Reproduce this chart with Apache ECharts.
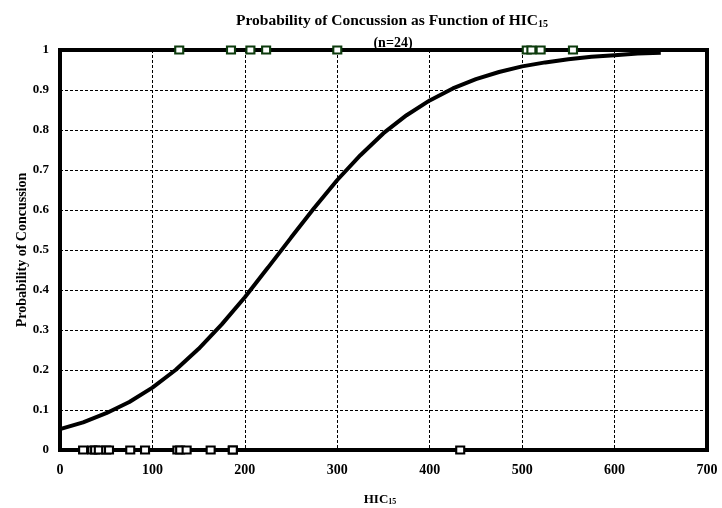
<!DOCTYPE html>
<html>
<head>
<meta charset="utf-8">
<script src="https://cdn.jsdelivr.net/npm/echarts@6/dist/echarts.min.js"></script>
<style>html,body{margin:0;padding:0;background:#fff;}#c{width:722px;height:508px;}</style>
</head>
<body>
<div id="c"></div>
<script>
// Logistic curve
const curveHIC = [0,25,50,75,100,125,150,175,200,225,250,275,300,325,350,375,400,425,450,475,500,525,550,575,600,625,650];
const curveP   = [0.052,0.069,0.092,0.120,0.156,0.200,0.253,0.314,0.382,0.456,0.531,0.605,0.675,0.737,0.792,0.837,0.874,0.904,0.927,0.945,0.959,0.969,0.977,0.983,0.987,0.991,0.993];
// Observed concussion cases (p = 1)
const concussHIC = [129,185,206,223,300,505,510,520,555];
// Observed non-concussion cases (p = 0)
const noConcussHIC = [25,35,38,42,50,53,76,92,127,130,137,163,187,187,433];
const xTicks = [0,100,200,300,400,500,600,700];

const chart = echarts.init(document.getElementById('c'));
const font = '"Liberation Serif", "DejaVu Serif", serif';
chart.setOption({
  backgroundColor: '#fff',
  animation: false,
  title: [{
    text: '{a|Probability of Concussion as Function of HIC}{s|15}',
    left: 387, top: 8, textAlign: 'center',
    textStyle: { rich: {
      a: { fontFamily: font, fontWeight: 'bold', fontSize: 15.5, color: '#000' },
      s: { fontFamily: font, fontWeight: 'bold', fontSize: 10, color: '#000', verticalAlign: 'bottom', padding: [6,0,0,0] }
    }}
  }, {
    text: '(n=24)', left: 388, top: 31, textAlign: 'center',
    textStyle: { fontFamily: font, fontWeight: 'bold', fontSize: 14, color: '#000' }
  }, {
    text: '{a|HIC}{s|15}', left: 375, top: 488, textAlign: 'center',
    textStyle: { rich: {
      a: { fontFamily: font, fontWeight: 'bold', fontSize: 13, color: '#000' },
      s: { fontFamily: font, fontWeight: 'bold', fontSize: 8, color: '#000', verticalAlign: 'bottom', padding: [5,0,0,0] }
    }}
  }],
  grid: { left: 60, right: 15, top: 50, bottom: 58, show: true, borderColor: '#000', borderWidth: 4 },
  xAxis: {
    type: 'value', min: 0, max: 700, interval: 100,
    axisLine: { show: false }, axisTick: { show: false },
    axisLabel: { fontFamily: font, fontWeight: 'bold', fontSize: 14, color: '#000', margin: 13,
      formatter: v => xTicks.includes(v) ? String(v) : '' },
    splitLine: { show: true, lineStyle: { color: '#000', type: [3,2], width: 1 } }
  },
  yAxis: {
    type: 'value', min: 0, max: 1, interval: 0.1,
    name: 'Probability of Concussion', nameLocation: 'middle', nameGap: 31, nameRotate: 90,
    nameMoveOverlap: false,
    nameTextStyle: { fontFamily: font, fontWeight: 'bold', fontSize: 14, color: '#000' },
    axisLine: { show: false }, axisTick: { show: false },
    axisLabel: { fontFamily: font, fontWeight: 'bold', fontSize: 13, color: '#000', margin: 11,
      formatter: v => { const r = Math.round(v*10)/10; return r === 0 ? '0' : (r === 1 ? '1' : r.toFixed(1)); } },
    splitLine: { show: true, lineStyle: { color: '#000', type: [3,2], width: 1 } }
  },
  series: [{
    type: 'line', data: curveHIC.map((x,i) => [x, curveP[i]]),
    showSymbol: false, symbol: 'none', lineStyle: { color: '#000', width: 4 }, z: 3
  }, {
    type: 'scatter', data: concussHIC.map(x => [x, 1]),
    symbol: 'rect', symbolSize: [8,7],
    itemStyle: { color: '#fff', opacity: 1, borderColor: '#0d3b0d', borderWidth: 2 }, z: 4
  }, {
    type: 'scatter', data: noConcussHIC.map(x => [x, 0]),
    symbol: 'rect', symbolSize: [8,7],
    itemStyle: { color: '#fff', opacity: 1, borderColor: '#000', borderWidth: 2 }, z: 4
  }]
});
</script>
</body>
</html>
